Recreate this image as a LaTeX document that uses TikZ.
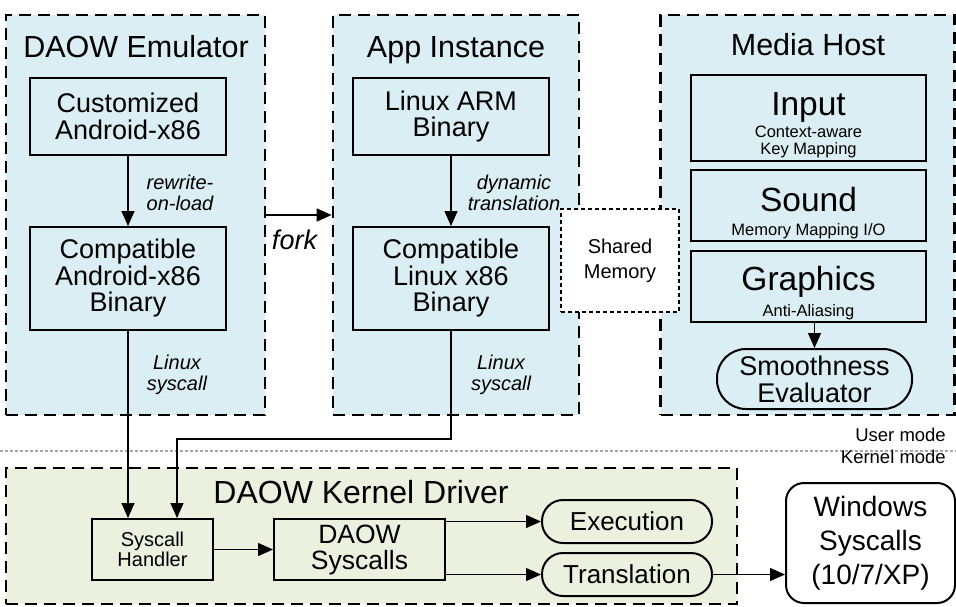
\documentclass[tikz,border=0pt]{standalone}
\usepackage{fontspec}
\setmainfont{Liberation Sans}
\usetikzlibrary{arrows.meta,positioning}
\definecolor{userblue}{RGB}{218,238,243}
\definecolor{kernelgreen}{RGB}{235,241,222}

\begin{document}
\begin{tikzpicture}[x=1pt,y=-1pt,
 group/.style={draw,line width=2.7pt,dash pattern=on 12pt off 7pt,fill=userblue,inner sep=0pt},
 title/.style={font=\fontsize{30.5}{30.5}\selectfont,inner sep=0pt},
 box/.style={draw,line width=2pt,fill=userblue,align=center,inner sep=0pt,
             font=\fontsize{27}{26.5}\selectfont},
 note/.style={align=center,inner sep=0pt,font=\fontsize{20}{21.5}\selectfont\itshape},
 big/.style={inner sep=0pt,font=\fontsize{33.5}{33.5}\selectfont},
 small/.style={align=center,inner sep=0pt,font=\fontsize{16.5}{17.5}\selectfont},
 shm/.style={draw,line width=2pt,dash pattern=on 4pt off 3pt,fill=white,align=center,
             inner sep=0pt,font=\fontsize{20}{25}\selectfont},
 pill/.style={draw,line width=2pt,align=center,inner sep=0pt},
 kbox/.style={draw,line width=2pt,fill=kernelgreen,align=center,inner sep=0pt},
 mode/.style={inner sep=0pt,font=\fontsize{18.5}{18.5}\selectfont},
 sepline/.style={line width=1.5pt,gray!70,dash pattern=on 3pt off 2pt},
 arr/.style={line width=1.3pt,-{Triangle[length=15pt,width=13pt]}}]

\useasboundingbox (0,0) rectangle (956,606);

\node[group,minimum width=259,minimum height=400] (emu) at (135.5,215) {};
\node[group,minimum width=246,minimum height=400] (app) at (456,215) {};
\node[group,minimum width=294,minimum height=400] (media) at (807.5,215) {};
\node[title,anchor=base] (emutitle) at (136,57) {DAOW Emulator};
\node[title,anchor=base] (apptitle) at (456,57) {App Instance};
\node[title,anchor=base] (mediatitle) at (808,55) {Media Host};

\node[box,minimum width=196,minimum height=77] (cust) at (128,116.5) {Customized\\Android-x86};
\node[box,minimum width=196,minimum height=103] (compa) at (128,278.5) {Compatible\\Android-x86\\Binary};
\node[box,minimum width=196,minimum height=77] (arm) at (451,116.5) {Linux ARM\\Binary};
\node[box,minimum width=196,minimum height=103] (compl) at (451,278.5) {Compatible\\Linux x86\\Binary};

\draw[arr] (cust) -- (compa);
\draw[arr] (arm) -- (compl);
\draw[arr] (emu) -- (app);
\node[note] (rwlbl) at (180,193) {rewrite-\\on-load};
\node[note] (dynlbl) at (514,193) {dynamic\\translation};
\node[note] (sclblA) at (177,375) {Linux\\syscall};
\node[note] (sclblB) at (501,375) {Linux\\syscall};
\node[note,font=\fontsize{27}{27}\selectfont\itshape,anchor=base] (forklbl) at (294.5,249) {fork};

\node[box,minimum width=235,minimum height=86] (input) at (808.5,118) {};
\node[big,anchor=base] (inputtxt) at (808.5,115) {Input};
\node[small] (inputsub) at (808.5,142) {Context-aware\\Key Mapping};
\node[box,minimum width=235,minimum height=71] (sound) at (808.5,205.5) {};
\node[big,anchor=base] (soundtxt) at (808.5,211) {Sound};
\node[small,anchor=base] (soundsub) at (808.5,235) {Memory Mapping I/O};
\node[box,minimum width=235,minimum height=71] (graph) at (808.5,286.5) {};
\node[big,anchor=base] (graphtxt) at (808.5,290) {Graphics};
\node[small,anchor=base] (graphsub) at (808.5,316) {Anti-Aliasing};
\node[pill,minimum width=195,minimum height=60,rounded corners=29,
      font=\fontsize{27}{27}\selectfont] (smooth) at (814.5,379) {Smoothness\\Evaluator};
\draw[arr] (graph.south -| smooth.north) -- (smooth.north);

\node[shm,minimum width=118,minimum height=103] (shm) at (620,260.5) {Shared\\Memory};

\coordinate (sepl) at (0,451);
\coordinate (sepr) at (956,451);
\draw[sepline] (sepl) -- (sepr);
\node[mode,anchor=base east] (usermode) at (946,441) {User mode};
\node[mode,anchor=base east] (kernelmode) at (946,463) {Kernel mode};

\node[group,fill=kernelgreen,minimum width=731,minimum height=136] (kernel) at (371.5,536) {};
\node[title,font=\fontsize{32}{32}\selectfont,anchor=base] (ktitle) at (361,503) {DAOW Kernel Driver};
\node[kbox,minimum width=121,minimum height=61,font=\fontsize{20}{20.5}\selectfont] (handler) at (152.5,549.5) {Syscall\\Handler};
\node[kbox,minimum width=171,minimum height=61,font=\fontsize{26.5}{26}\selectfont] (dsys) at (359.5,549.5) {DAOW\\Syscalls};
\node[pill,minimum width=170,minimum height=43,rounded corners=21,
      font=\fontsize{26}{26}\selectfont] (exec) at (627,521.5) {Execution};
\node[pill,minimum width=170,minimum height=43,rounded corners=21,
      font=\fontsize{26}{26}\selectfont] (trans) at (627,574.5) {Translation};
\node[pill,minimum width=169,minimum height=120,rounded corners=18,fill=white,
      font=\fontsize{28}{34}\selectfont] (win) at (870.5,543) {Windows\\Syscalls\\(10/7/XP)};

\coordinate (bend) at (177,439);
\draw[arr] (compa.south) -- (compa.south |- handler.north);
\draw[arr] (compl.south) |- (bend) -- (bend |- handler.north);
\draw[arr] (handler) -- (dsys);
\draw[arr] (dsys.east |- exec) -- (exec);
\draw[arr] (dsys.east |- trans) -- (trans);
\draw[arr] (trans) -- (trans -| win.west);
\end{tikzpicture}
\end{document}
